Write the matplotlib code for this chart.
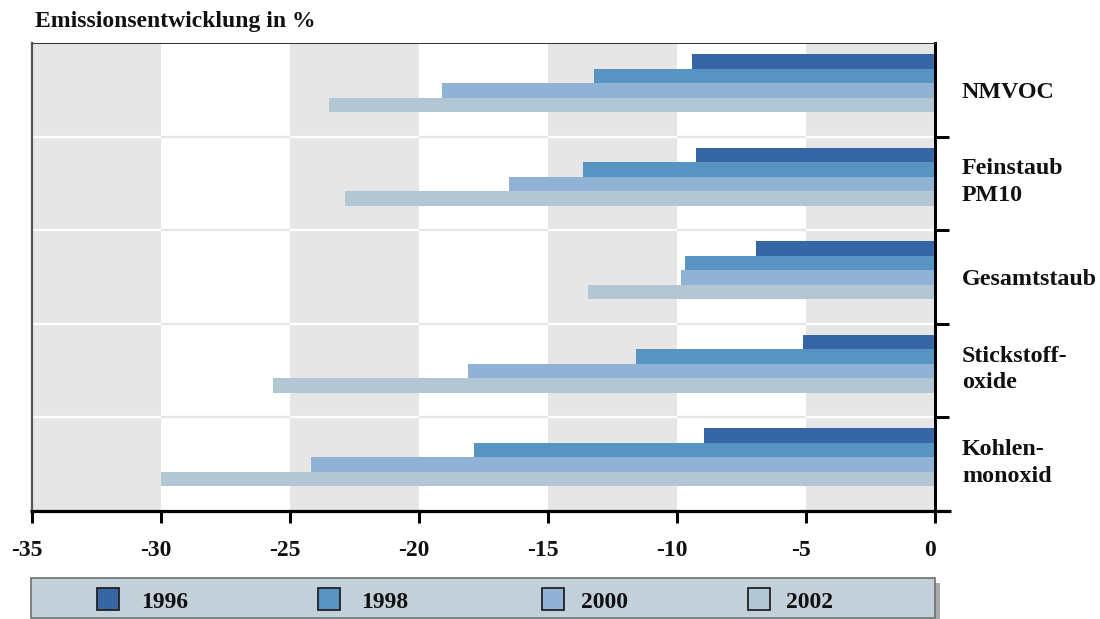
import matplotlib
matplotlib.use("Agg")
import matplotlib.pyplot as plt
import matplotlib.transforms as mtransforms
from matplotlib.patches import Rectangle

plt.rcParams["font.family"] = ["Liberation Serif", "DejaVu Serif"]
plt.rcParams["font.weight"] = "bold"
plt.rcParams["axes.unicode_minus"] = False

# Data: emission change in percent relative to the base year
categories = ["NMVOC", "Feinstaub\nPM10", "Gesamtstaub", "Stickstoff-\noxide", "Kohlen-\nmonoxid"]
years = ["1996", "1998", "2000", "2002"]
v1996 = [-9.4, -9.25, -6.95, -5.1, -8.95]
v1998 = [-13.2, -13.65, -9.7, -11.6, -17.85]
v2000 = [-19.1, -16.5, -9.85, -18.1, -24.2]
v2002 = [-23.5, -22.85, -13.45, -25.65, -30.0]
series = [v1996, v1998, v2000, v2002]
xticks = [-35, -30, -25, -20, -15, -10, -5, 0]
xticklabels = ["-35", "-30", "-25", "-20", "-15", "-10", "-5", "0"]

colors = ["#3666a6", "#5894c1", "#8fb2d5", "#b3c6d4"]
band_gray = "#e6e6e6"

W, H = 1100, 619
fig = plt.figure(figsize=(W / 100, H / 100), dpi=100)
px = 72 / 100  # points per pixel

left, right, top, bottom = 32, 935, 43, 511
ax = fig.add_axes([left / W, 1 - bottom / H, (right - left) / W, (bottom - top) / H])
ax.set_xlim(xticks[0], xticks[-1])
ax.set_ylim(len(categories), 0)

# Alternating vertical bands
for k, (lo, hi) in enumerate(zip(xticks[:-1], xticks[1:])):
    shade = band_gray if k % 2 == 0 else "white"
    ax.axvspan(lo, hi, color=shade, lw=0, zorder=0)
    line_c = "white" if k % 2 == 0 else band_gray
    ax.hlines(range(1, len(categories)), lo, hi, colors=line_c, lw=2.3 * px, zorder=1)

# Bars
bar_h = 0.155
first_off = 0.1175
for j, (vals, c) in enumerate(zip(series, colors)):
    ys = [i + first_off + bar_h * (j + 0.5) for i in range(len(categories))]
    ax.barh(ys, vals, height=bar_h, color=c, lw=0, zorder=2)

# Spines and ticks
ax.spines["top"].set_color("#333333")
ax.spines["top"].set_linewidth(1.0 * px)
ax.spines["left"].set_color("#555555")
ax.spines["left"].set_linewidth(2.2 * px)
ax.spines["right"].set_color("black")
ax.spines["right"].set_linewidth(3 * px)
ax.spines["bottom"].set_visible(False)
ax.plot([-0.002, (951 - left) / (right - left)], [0, 0], color="black",
        lw=3.2 * px, transform=ax.transAxes, clip_on=False, zorder=5,
        solid_capstyle="butt")

ax.set_xticks(xticks)
ax.set_xticklabels([])
ax.tick_params(axis="x", direction="out", length=12 * px, width=3 * px, color="black")
xtrans = mtransforms.blended_transform_factory(ax.transData, ax.transAxes)
for xv, lab in zip(xticks, xticklabels):
    t = xtrans + mtransforms.ScaledTranslation(-5 / 100, -45 / 100, fig.dpi_scale_trans)
    ax.text(xv, 0, lab, transform=t, ha="center", va="baseline", fontsize=17,
            fontweight="bold", color="#111111", clip_on=False)

ax.yaxis.tick_right()
ax.set_yticks(range(1, len(categories) + 1))
ax.set_yticklabels([])
ax.tick_params(axis="y", direction="out", length=14 * px, width=3 * px, color="black")

# Category labels on the right, one text per line
trans = mtransforms.blended_transform_factory(ax.transAxes, ax.transData)
for i, lab in enumerate(categories):
    lines = lab.split("\n")
    offs = [8] if len(lines) == 1 else [-9, 17.5]
    for line, off in zip(lines, offs):
        t = trans + mtransforms.ScaledTranslation(0, -off / 100, fig.dpi_scale_trans)
        ax.text((962 - left) / (right - left), i + 0.5, line, transform=t,
                ha="left", va="baseline", fontsize=17.3, fontweight="bold",
                color="#111111")

# Title
fig.text(35 / W, 1 - 27 / H, "Emissionsentwicklung in %", ha="left", va="baseline",
         fontsize=17, fontweight="bold", color="#111111")

# Legend box with shadow
fig.patches.append(Rectangle((935 / W, 1 - 622 / H), 4.5 / W, 39 / H,
                             transform=fig.transFigure, facecolor="#a9a9a9",
                             edgecolor="none", zorder=1))
fig.patches.append(Rectangle((31 / W, 1 - 618 / H), (935 - 31) / W, 40 / H,
                             transform=fig.transFigure, facecolor="#c2d0d9",
                             edgecolor="#707070", lw=1.2, zorder=2))
sq_x = [97, 318, 542, 748]
txt_x = [141, 361, 581, 786]
for yr, c, sx, tx in zip(years, colors, sq_x, txt_x):
    fig.patches.append(Rectangle((sx / W, 1 - 610 / H), 22 / W, 22 / H,
                                 transform=fig.transFigure, facecolor=c,
                                 edgecolor="#222222", lw=1.3, zorder=3))
    fig.text(tx / W, 1 - 608 / H, yr, ha="left", va="baseline", fontsize=17,
             fontweight="bold", color="#111111", zorder=4)

fig.savefig("out.png", dpi=100)
